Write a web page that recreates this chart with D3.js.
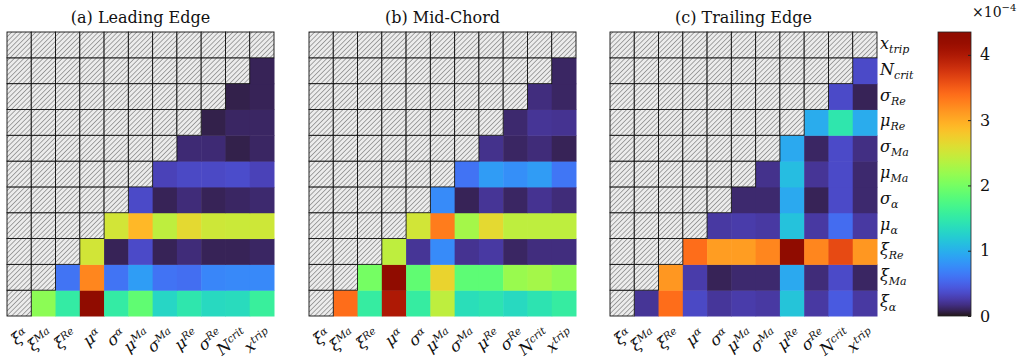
<!DOCTYPE html>
<html>
<head>
<meta charset="utf-8">
<script src="https://cdn.jsdelivr.net/npm/d3@7"></script>
<style>
  body { margin: 0; background: #fff; }
</style>
</head>
<body>
<svg id="chart"></svg>
<script>
//------------------------------------------------------------
// Data: parameter names (bottom-up), and per-panel values (x 1e-4)
// row k holds values for columns k+1 .. 10
const params = [
  ["ξ", "α"], ["ξ", "Ma"], ["ξ", "Re"], ["μ", "α"], ["σ", "α"],
  ["μ", "Ma"], ["σ", "Ma"], ["μ", "Re"], ["σ", "Re"], ["N", "crit"], ["x", "trip"]
];
const panelTitles = ["(a) Leading Edge", "(b) Mid-Chord", "(c) Trailing Edge"];

const leadingEdge = [
  [2.13, 1.52, 4.35, 1.52, 1.87, 1.3, 1.46, 1.33, 1.35, 1.57],
  [0.61, 3.24, 0.61, 0.87, 0.6, 0.57, 0.72, 0.74, 0.74],
  [2.52, 0.09, 0.35, 0.09, 0.15, 0.09, 0.09, 0.11],
  [2.53, 2.91, 2.41, 2.65, 2.5, 2.48, 2.5],
  [0.35, 0.09, 0.15, 0.09, 0.11, 0.13],
  [0.3, 0.34, 0.34, 0.36, 0.3],
  [0.14, 0.14, 0.07, 0.11],
  [0.07, 0.11, 0.11],
  [0.07, 0.09],
  [0.09],
  []
];
const midChord = [
  [3.39, 1.54, 4.0, 1.54, 2.41, 1.38, 1.43, 1.33, 1.43, 1.54],
  [2.0, 4.35, 1.87, 2.7, 1.85, 1.85, 2.2, 2.26, 2.15],
  [2.41, 0.21, 0.75, 0.2, 0.24, 0.11, 0.16, 0.16],
  [2.52, 3.3, 2.26, 2.65, 2.41, 2.41, 2.41],
  [0.75, 0.09, 0.21, 0.11, 0.2, 0.15],
  [0.6, 0.86, 0.78, 0.86, 0.62],
  [0.19, 0.11, 0.15, 0.09],
  [0.13, 0.21, 0.2],
  [0.16, 0.11],
  [0.11],
  []
];
const trailingEdge = [
  [0.21, 3.39, 0.34, 0.22, 0.26, 0.24, 1.15, 0.24, 0.45, 0.24],
  [3.13, 0.26, 0.09, 0.13, 0.13, 0.95, 0.15, 0.35, 0.11],
  [3.39, 3.09, 3.09, 3.24, 4.35, 3.24, 3.61, 3.13],
  [0.24, 0.26, 0.24, 1.13, 0.24, 0.56, 0.24],
  [0.13, 0.13, 0.95, 0.09, 0.35, 0.13],
  [0.19, 1.09, 0.21, 0.35, 0.13],
  [0.95, 0.11, 0.35, 0.17],
  [0.97, 1.46, 0.97],
  [0.35, 0.09],
  [0.35],
  []
];
const panels = [leadingEdge, midChord, trailingEdge];
const cbarTicks = [0, 1, 2, 3, 4];
const cbarMax = 4.35;

//------------------------------------------------------------
// Setup
const W = 1024, H = 360;
const serif = "'DejaVu Serif', 'Liberation Serif', serif";
const svg = d3.select("#chart").attr("width", W).attr("height", H)
  .attr("font-family", serif).style("font-family", serif);

const color = d3.scaleSequential(d3.interpolateTurbo).domain([0, cbarMax]);

// hatch pattern for empty cells
const defs = svg.append("defs");
const pat = defs.append("pattern")
  .attr("id", "hatch")
  .attr("patternUnits", "userSpaceOnUse")
  .attr("width", 3.4).attr("height", 3.4)
  .attr("patternTransform", "rotate(45)");
pat.append("rect").attr("width", 3.4).attr("height", 3.4).attr("fill", "#ececec");
pat.append("line").attr("x1", 0).attr("y1", 0).attr("x2", 0).attr("y2", 3.4)
  .attr("stroke", "#8a8a8a").attr("stroke-width", 1.5);

const panelX = [7, 309, 610];
const gridW = 267, gridTop = 32, gridH = 284;
const names = params.map((p, i) => i);

// label with subscript
function mathLabel(sel, p, mainSize, subSize, subDy) {
  sel.append("tspan").attr("font-style", "italic").attr("font-size", mainSize).text(p[0]);
  sel.append("tspan").attr("font-style", "italic").attr("font-size", subSize)
    .attr("dy", subDy).text(p[1]);
}

panels.forEach((rows, pi) => {
  const x = d3.scaleBand().domain(names).range([panelX[pi], panelX[pi] + gridW]);
  const y = d3.scaleBand().domain(names.slice().reverse()).range([gridTop, gridTop + gridH]);
  const g = svg.append("g");

  const cells = [];
  names.forEach(k => names.forEach(j => {
    cells.push({ k, j, v: j > k ? rows[k][j - k - 1] : null });
  }));

  g.selectAll("rect.val")
    .data(cells.filter(d => d.v !== null))
    .join("rect")
    .attr("x", d => x(d.j)).attr("y", d => y(d.k))
    .attr("width", x.bandwidth() + 0.5).attr("height", y.bandwidth() + 0.5)
    .attr("fill", d => color(d.v));

  g.selectAll("rect.nan")
    .data(cells.filter(d => d.v === null))
    .join("rect")
    .attr("x", d => x(d.j)).attr("y", d => y(d.k))
    .attr("width", x.bandwidth()).attr("height", y.bandwidth())
    .attr("fill", "url(#hatch)")
    .attr("stroke", "#111").attr("stroke-width", 0.9);

  // title
  svg.append("text")
    .attr("x", panelX[pi] + gridW / 2).attr("y", 23)
    .attr("text-anchor", "middle")
    .attr("font-size", 16)
    .attr("fill", "#111")
    .text(panelTitles[pi]);

  // bottom tick labels (rotated)
  names.forEach(j => {
    const t = svg.append("text")
      .attr("fill", "#111")
      .attr("transform", `translate(${x(j) + x.bandwidth() / 2 + 10},${gridTop + gridH + 20}) rotate(-38)`)
      .attr("text-anchor", "end");
    mathLabel(t, params[j], 16, 10.5, -5);
  });

  // right labels only on last panel
  if (pi === 2) {
    names.forEach(k => {
      const t = svg.append("text")
        .attr("fill", "#111")
        .attr("x", panelX[pi] + gridW + 3)
        .attr("y", y(k) + y.bandwidth() / 2 + 4);
      mathLabel(t, params[k], 16, 11, 4);
    });
  }
});

//------------------------------------------------------------
// Colorbar
const cbX = 938, cbW = 33;
const cy = d3.scaleLinear().domain([0, cbarMax]).range([gridTop + gridH, gridTop]);
const grad = defs.append("linearGradient").attr("id", "cbar")
  .attr("x1", 0).attr("y1", 1).attr("x2", 0).attr("y2", 0);
d3.range(0, 1.0001, 0.02).forEach(t => {
  grad.append("stop").attr("offset", t).attr("stop-color", color(t * cbarMax));
});
svg.append("rect")
  .attr("x", cbX).attr("y", gridTop).attr("width", cbW).attr("height", gridH)
  .attr("fill", "url(#cbar)").attr("stroke", "#222").attr("stroke-width", 0.8);

const cAxis = svg.append("g")
  .attr("transform", `translate(${cbX + cbW},0)`)
  .call(d3.axisRight(cy).tickValues(cbarTicks).tickFormat(d3.format("d"))
    .tickSizeInner(-3).tickSizeOuter(0).tickPadding(9));
cAxis.attr("font-family", serif).attr("font-size", 16);
cAxis.select(".domain").remove();
cAxis.selectAll("line").attr("stroke", "#222");
cAxis.selectAll("text").attr("fill", "#111");

const exp = svg.append("text").attr("x", 972).attr("y", 17).attr("font-size", 14).attr("fill", "#111");
exp.append("tspan").text("×10");
exp.append("tspan").attr("dy", -6).attr("font-size", 10).text("−4");
</script>
</body>
</html>
